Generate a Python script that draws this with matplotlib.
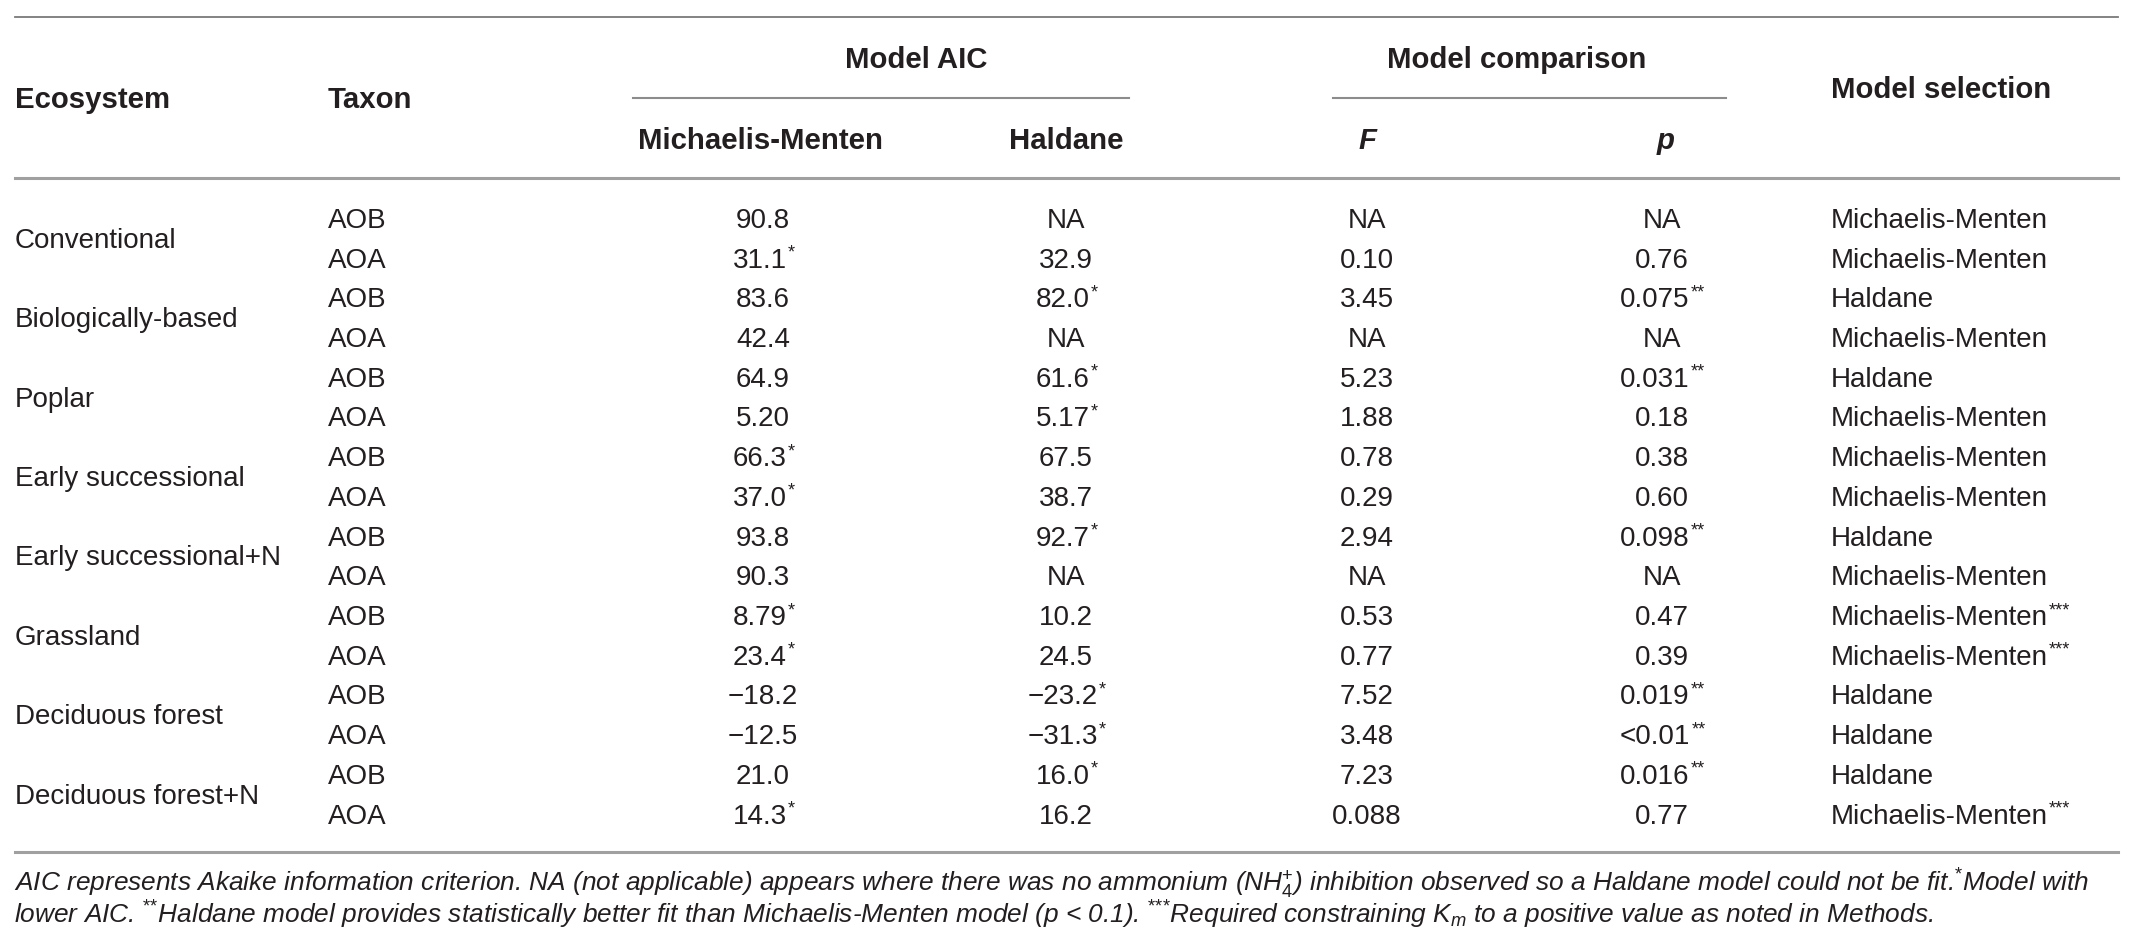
import matplotlib
matplotlib.use("Agg")
import matplotlib.pyplot as plt

plt.rcParams["font.family"] = ["Liberation Sans", "DejaVu Sans"]
plt.rcParams["mathtext.fontset"] = "custom"
plt.rcParams["mathtext.rm"] = "Liberation Sans"
plt.rcParams["mathtext.it"] = "Liberation Sans:italic"
plt.rcParams["mathtext.bf"] = "Liberation Sans:bold"

ecosystems = ["Conventional", "Biologically-based", "Poplar", "Early successional",
              "Early successional+N", "Grassland", "Deciduous forest", "Deciduous forest+N"]
taxa = ["AOB", "AOA"] * 8
mm_aic = ["90.8", "31.1*", "83.6", "42.4", "64.9", "5.20", "66.3*", "37.0*",
          "93.8", "90.3", "8.79*", "23.4*", "\u221218.2", "\u221212.5", "21.0", "14.3*"]
haldane_aic = ["NA", "32.9", "82.0*", "NA", "61.6*", "5.17*", "67.5", "38.7",
               "92.7*", "NA", "10.2", "24.5", "\u221223.2*", "\u221231.3*", "16.0*", "16.2"]
f_vals = ["NA", "0.10", "3.45", "NA", "5.23", "1.88", "0.78", "0.29",
          "2.94", "NA", "0.53", "0.77", "7.52", "3.48", "7.23", "0.088"]
p_vals = ["NA", "0.76", "0.075**", "NA", "0.031**", "0.18", "0.38", "0.60",
          "0.098**", "NA", "0.47", "0.39", "0.019**", "<0.01**", "0.016**", "0.77"]
selection = ["Michaelis-Menten", "Michaelis-Menten", "Haldane", "Michaelis-Menten",
             "Haldane", "Michaelis-Menten", "Michaelis-Menten", "Michaelis-Menten",
             "Haldane", "Michaelis-Menten", "Michaelis-Menten***", "Michaelis-Menten***",
             "Haldane", "Haldane", "Haldane", "Michaelis-Menten***"]

footnote = [
    r"AIC represents Akaike information criterion. NA (not applicable) appears where there was no "
    r"ammonium (NH$_4^{+}$) inhibition observed so a Haldane model could not be fit.$^{*}$Model with",
    r"lower AIC. $^{{*}{*}}$Haldane model provides statistically better fit than Michaelis-Menten "
    r"model ($p$ < 0.1). $^{{*}{*}{*}}$Required constraining $K_m$ to a positive value as noted in Methods.",
]

W, H = 2139, 952
fig = plt.figure(figsize=(W / 100, H / 100), dpi=100)
ax = fig.add_axes([0, 0, 1, 1])
ax.set_xlim(0, W)
ax.set_ylim(H, 0)
ax.axis("off")

TXT = "#231f20"
BODY = 20
HEAD = 21.2

# rules
ax.plot([15, 2118], [17, 17], color="#7a7a7a", lw=1.3)
ax.plot([15, 2118], [178, 178], color="#a0a0a0", lw=2.2)
ax.plot([633, 1129], [98, 98], color="#8c8c8c", lw=1.5)
ax.plot([1333, 1726], [98, 98], color="#8c8c8c", lw=1.5)
ax.plot([15, 2118], [852, 852], color="#a0a0a0", lw=2.2)

# header
hd = dict(fontsize=HEAD, fontweight="bold", color=TXT, va="baseline")
ax.text(15, 108, "Ecosystem", ha="left", **hd)
ax.text(328, 108, "Taxon", ha="left", **hd)
ax.text(916, 68, "Model AIC", ha="center", **hd)
ax.text(1517, 68, "Model comparison", ha="center", **hd)
ax.text(1831, 98, "Model selection", ha="left", **hd)
ax.text(760, 149, "Michaelis-Menten", ha="center", **hd)
ax.text(1066, 149, "Haldane", ha="center", **hd)
ax.text(1367, 149, "F", ha="center", style="italic", **hd)
ax.text(1666, 149, "p", ha="center", style="italic", **hd)

starred = []


def cell(x, y, s, ha="center"):
    base = s.rstrip("*")
    stars = s[len(base):]
    shift = len(stars) * 3.5 if ha == "center" else 0
    t = ax.text(x - shift, y, base, ha=ha, va="baseline", fontsize=BODY, color=TXT)
    if stars:
        starred.append((t, y, stars))


ROW0, STEP = 228, 39.7
for i in range(len(taxa)):
    y = ROW0 + i * STEP
    cell(328, y, taxa[i], ha="left")
    cell(763, y, mm_aic[i])
    cell(1066, y, haldane_aic[i])
    cell(1367, y, f_vals[i])
    cell(1662, y, p_vals[i])
    cell(1831, y, selection[i], ha="left")

for k, name in enumerate(ecosystems):
    y = ROW0 + (2 * k + 0.5) * STEP
    ax.text(15, y, name, ha="left", va="baseline", fontsize=BODY, color=TXT)

# footnote
fn = [ax.text(14, yy, s, ha="left", va="baseline", fontsize=15, style="italic", color=TXT)
      for yy, s in zip([892, 924], footnote)]

fig.canvas.draw()
r = fig.canvas.get_renderer()

# superscript asterisks right after the value, near cap height
for t, y, stars in starred:
    bb = t.get_window_extent(r)
    x_right = ax.transData.inverted().transform((bb.x1, bb.y0))[0]
    ax.text(x_right + 1, y - 10, stars, ha="left", va="baseline",
            fontsize=13, color=TXT)

# footnote sized to span the same width as the original
w1 = fn[0].get_window_extent(r).width
size = 15 * (2092 - 14) / w1
for t in fn:
    t.set_fontsize(size)

fig.savefig("out.png", dpi=100)
